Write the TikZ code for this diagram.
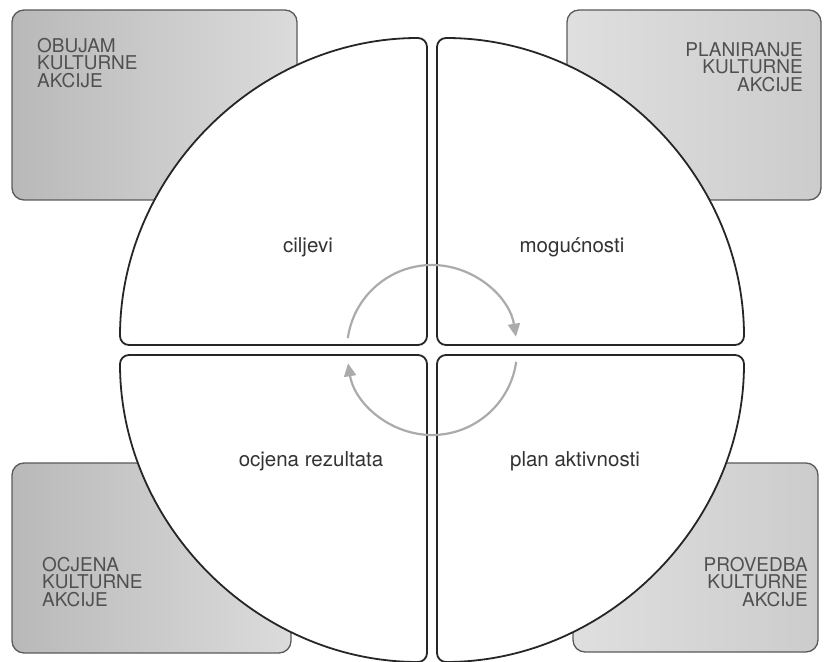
\documentclass[tikz,border=0pt]{standalone}
\usepackage{fontspec}
\setmainfont{TeX Gyre Heros}
\usetikzlibrary{arrows.meta}
\usepackage{xcolor}
\definecolor{boxline}{HTML}{5A5A5A}
\definecolor{boxtext}{HTML}{505050}
\definecolor{cyclegray}{HTML}{ABABAB}
\definecolor{piecedark}{HTML}{262626}

\begin{document}
\begin{tikzpicture}[x=1pt, y=1pt,
    area/.style={draw=boxline, line width=1.3pt, rounded corners=12pt},
    areatext/.style={inner sep=0pt, text=boxtext, font=\fontsize{19}{17.5}\selectfont},
    quarter/.style={draw=piecedark, line width=1.8pt, fill=white, rounded corners=9pt},
    phase/.style={inner sep=0pt, anchor=base, text=black!80, font=\fontsize{20.5}{23}\selectfont},
    turn/.style={draw=cyclegray, line width=2.2pt, -{Triangle[length=13pt, width=12pt]}}]
    \useasboundingbox (0,0) rectangle (824,661);
    \path[area, left color=gray!55, right color=gray!28] (12,651) rectangle (297,461);
    \path[area, left color=gray!25, right color=gray!40] (567,651) rectangle (821,461);
    \path[area, left color=gray!55, right color=gray!28] (12,198) rectangle (291,8);
    \path[area, left color=gray!25, right color=gray!40] (573,198) rectangle (818,9);
    \node[areatext, anchor=north west, align=left] (scope) at (37,623) {OBUJAM\\KULTURNE\\AKCIJE};
    \node[areatext, anchor=north east, align=right] (planning) at (803,619) {PLANIRANJE\\KULTURNE\\AKCIJE};
    \node[areatext, anchor=north west, align=left] (review) at (42,104) {OCJENA\\KULTURNE\\AKCIJE};
    \node[areatext, anchor=north east, align=right] (delivery) at (808,104) {PROVEDBA\\KULTURNE\\AKCIJE};
    \draw[quarter] (427,316) -- (120,316) arc[start angle=180, end angle=90, radius=307] -- cycle;
    \draw[quarter] (437,316) -- (437,623) arc[start angle=90, end angle=0, radius=307] -- cycle;
    \draw[quarter] (427,306) -- (427,-1) arc[start angle=270, end angle=180, radius=307] -- cycle;
    \draw[quarter] (437,306) -- (744,306) arc[start angle=0, end angle=-90, radius=307] -- cycle;
    \coordinate (hub) at (432,311);
    \draw[turn] ([shift={(172:85)}]hub) arc[start angle=172, end angle=9, radius=85];
    \draw[turn] ([shift={(-8:85)}]hub) arc[start angle=-8, end angle=-171, radius=85];
    \node[phase] (goals) at (308,408) {ciljevi};
    \node[phase] (options) at (572,408) {mogućnosti};
    \node[phase] (results) at (311,194) {ocjena rezultata};
    \node[phase] (plan) at (575,194) {plan aktivnosti};
\end{tikzpicture}
\end{document}
